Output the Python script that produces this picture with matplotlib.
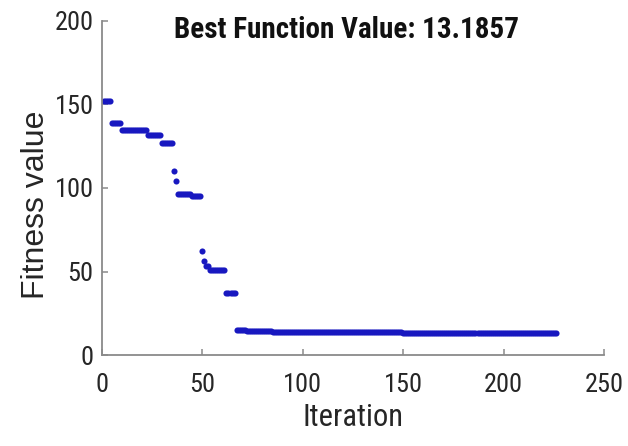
import numpy as np
import matplotlib
matplotlib.use("Agg")
import matplotlib.pyplot as plt

plt.rcParams['font.family'] = ['Roboto Condensed', 'Liberation Sans', 'DejaVu Sans']

# best fitness per generation, as piecewise-constant runs (first generation of each run)
run_start = [1, 5, 10, 23, 30, 36, 37, 38, 45, 50, 51, 52, 54, 62, 67, 72, 85, 110, 150, 190]
run_value = [152, 139, 135, 132, 127, 110, 104, 96.5, 95.5, 62, 56, 53, 51, 37,
             15.0, 14.5, 14.0, 13.6, 13.35, 13.1857]
last_gen = 226

x_ticks = [0, 50, 100, 150, 200, 250]
y_ticks = [0, 50, 100, 150, 200]
best_value = run_value[-1]

counts = np.diff(run_start + [last_gen + 1])
gens = np.arange(1, last_gen + 1)
best = np.repeat(run_value, counts)

fig = plt.figure(figsize=(6.28, 4.46), dpi=100)
ax = fig.add_axes([0.1624, 0.204, 0.7994, 0.749])

ax.plot(gens, best, linestyle='none', marker='o', ms=4.4, mew=0, color='#1818c0')

ax.set_xlim(0, 250)
ax.set_ylim(0, 200)
ax.set_xticks(x_ticks)
ax.set_yticks(y_ticks)

for side in ('top', 'right'):
    ax.spines[side].set_visible(False)
for side in ('left', 'bottom'):
    ax.spines[side].set_color('#8a8a8a')
    ax.spines[side].set_linewidth(1.3)

ax.tick_params(direction='in', length=4, width=1.1, color='#8a8a8a',
               labelsize=19, labelcolor='#262626')
ax.tick_params(axis='x', pad=13)
ax.tick_params(axis='y', pad=6)

ax.set_xlabel('Iteration', fontsize=22, color='#262626', labelpad=4)
ax.set_ylabel('Fitness value', fontsize=23, color='#262626', family='Liberation Sans',
              ha='center', va='center', rotation_mode='default')
ax.yaxis.set_label_coords(-0.131, 0.449)
ax.text(0.487, 0.973, f'Best Function Value: {best_value:.4f}', transform=ax.transAxes,
        ha='center', va='center', fontsize=21, fontweight='bold', color='#111111')

fig.savefig('out.png', dpi=100, facecolor='white')
